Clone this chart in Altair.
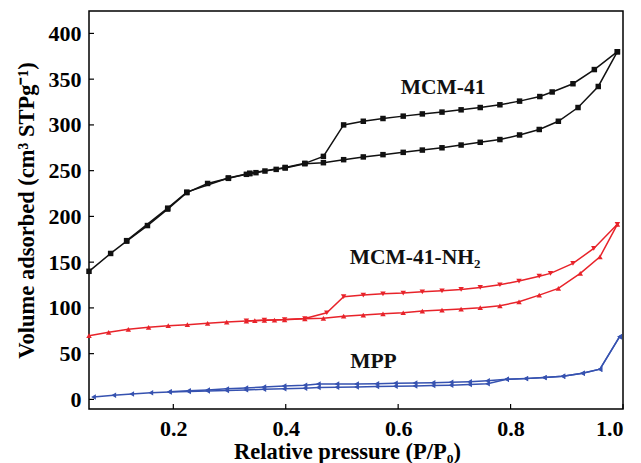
import altair as alt
import pandas as pd

# ---------------- data ----------------
# MCM-41 (black squares)
mcm_ads_x = [0.05, 0.0885, 0.117, 0.154, 0.19, 0.224, 0.261, 0.298, 0.33, 0.336, 0.347, 0.363, 0.383, 0.399,
             0.434, 0.467, 0.503, 0.538, 0.573, 0.609, 0.643, 0.678, 0.712, 0.746, 0.781, 0.816, 0.851, 0.885,
             0.92, 0.956, 0.99]
mcm_ads_y = [140, 159.5, 173, 190, 208, 226, 236, 241.6, 246, 246.7, 247.8, 249.6, 251.4, 252.9,
             257.6, 258.7, 262, 265, 267.5, 270, 272.5, 275, 278, 281, 284, 289, 295, 304,
             319, 342, 380]
mcm_des_x = [0.99, 0.949, 0.911, 0.874, 0.852, 0.816, 0.781, 0.746, 0.712, 0.678, 0.643, 0.609, 0.573,
             0.538, 0.503, 0.467, 0.434, 0.399, 0.336, 0.298, 0.224, 0.19, 0.117]
mcm_des_y = [380, 360.5, 345, 336, 331, 326, 322, 319, 316.5, 314, 312, 309.6, 307,
             304, 300, 265.6, 258, 253.5, 247.2, 242, 226.5, 209, 173.5]

# MCM-41-NH2 (red triangles)
nh2_ads_x = [0.05, 0.085, 0.12, 0.156, 0.191, 0.225, 0.261, 0.295, 0.33, 0.345, 0.362, 0.38, 0.398, 0.434,
             0.467, 0.503, 0.538, 0.573, 0.609, 0.643, 0.678, 0.712, 0.746, 0.781, 0.815, 0.851, 0.885,
             0.924, 0.959, 0.99]
nh2_ads_y = [69.6, 73.3, 76.6, 78.8, 80.5, 81.6, 83.1, 84.5, 85.6, 86, 86.4, 86.7, 87, 88.1,
             88.6, 91, 92.2, 93.6, 94.7, 96.5, 97.6, 98.7, 100.2, 102.3, 106.7, 114, 121.3,
             137.7, 155.8, 191.4]
nh2_des_x = [0.99, 0.948, 0.911, 0.871, 0.851, 0.815, 0.781, 0.746, 0.712, 0.678, 0.643, 0.609, 0.573,
             0.538, 0.503, 0.473, 0.434, 0.398, 0.362, 0.33]
nh2_des_y = [191.4, 165, 148.6, 137.7, 134.7, 129.3, 125.3, 122.4, 120.2, 118.7, 117.6, 116.2, 115.4,
             114, 112.2, 94.7, 88.4, 87.2, 86.6, 85.8]

# MPP (blue left triangles)
mpp_ads_x = [0.058, 0.094, 0.126, 0.16, 0.193, 0.227, 0.261, 0.295, 0.329, 0.361, 0.397, 0.434, 0.458,
             0.491, 0.526, 0.562, 0.595, 0.63, 0.662, 0.694, 0.727, 0.759, 0.793, 0.827, 0.86, 0.893,
             0.928, 0.959, 0.994]
mpp_ads_y = [2.7, 4.5, 6, 7.2, 8.0, 8.6, 9.2, 9.8, 10.4, 11.0, 11.5, 12.2, 12.9,
             13.3, 13.6, 14, 14.4, 14.7, 15.1, 15.5, 16.2, 17.2, 22, 22.7, 23.8, 25.3,
             28.6, 33, 68.5]
mpp_des_x = [0.994, 0.959, 0.928, 0.893, 0.86, 0.827, 0.793, 0.759, 0.727, 0.694, 0.662, 0.63, 0.595,
             0.562, 0.526, 0.491, 0.458, 0.434, 0.397, 0.361, 0.329, 0.295, 0.261, 0.227, 0.193]
mpp_des_y = [68.5, 33, 28.6, 25.3, 23.8, 22.7, 22, 20.5, 19.4, 18.7, 18.3, 18, 17.6,
             17.2, 16.9, 16.9, 16.9, 15.5, 14.7, 13.6, 12.5, 11.5, 10.4, 9.4, 8.3]

# labels placed in the plot
label_text = ["MCM-41", "MCM-41-NH\u2082", "MPP"]
label_x = [0.68, 0.63, 0.556]
label_y = [340, 154, 41]

# axis ticks
x_ticks = [0.2, 0.4, 0.6, 0.8, 1.0]
y_ticks = [0, 50, 100, 150, 200, 250, 300, 350, 400]

# ---------------- build tables ----------------
series_names = ["MCM-41", "MCM-41-NH2", "MPP"]
series_colors = ["#111111", "#e8232a", "#3652b0"]

frames = []
branches = [
    ("MCM-41", "MCM-41 ads", mcm_ads_x, mcm_ads_y),
    ("MCM-41", "MCM-41 des", mcm_des_x, mcm_des_y),
    ("MCM-41-NH2", "NH2 ads", nh2_ads_x, nh2_ads_y),
    ("MCM-41-NH2", "NH2 des", nh2_des_x, nh2_des_y),
    ("MPP", "MPP ads", mpp_ads_x, mpp_ads_y),
    ("MPP", "MPP des", mpp_des_x, mpp_des_y),
]
for s, k, xs, ys in branches:
    frames.append(pd.DataFrame({"x": xs, "y": ys, "series": s, "key": k, "order": list(range(len(xs)))}))
df = pd.concat(frames, ignore_index=True)

keys = [b[1] for b in branches]
shapes = ["square", "square", "triangle-up", "triangle-down", "triangle-left", "triangle-left"]

FONT = "Liberation Serif"
W, H = 534, 398

X = alt.X("x:Q", scale=alt.Scale(domain=[0.05, 1.0], nice=False, zero=False),
          axis=alt.Axis(values=x_ticks, format=".1f", title="Relative pressure (P/P\u2080)",
                        grid=False, domain=False, ticks=False, labelPadding=9, titlePadding=1,
                        titleX=258))
Y = alt.Y("y:Q", scale=alt.Scale(domain=[-10.5, 424.5], nice=False, zero=False),
          axis=alt.Axis(values=y_ticks, title="Volume adsorbed (cm\u00b3 STPg\u207b\u00b9)",
                        grid=False, domain=False, ticks=False, labelPadding=8, titlePadding=10))
color = alt.Color("series:N", scale=alt.Scale(domain=series_names, range=series_colors), legend=None)

lines = alt.Chart(df).mark_line(strokeWidth=1.5).encode(
    x=X, y=Y, color=color, detail="key:N", order="order:Q")

points = alt.Chart(df).mark_point(filled=True, size=30, opacity=1).encode(
    x=X, y=Y, color=color,
    shape=alt.Shape("key:N", scale=alt.Scale(domain=keys, range=shapes), legend=None))

lab_df = pd.DataFrame({"x": label_x, "y": label_y, "label": label_text})
labels = alt.Chart(lab_df).mark_text(font=FONT, fontWeight="bold", fontSize=21.5, color="#111111").encode(
    x=X, y=Y, text="label:N")

xt_df = pd.DataFrame({"x": x_ticks})
xticks = alt.Chart(xt_df).mark_rule(color="black", strokeWidth=1.2).encode(
    x=X, y=alt.value(H), y2=alt.value(H - 5))

yt_df = pd.DataFrame({"y": y_ticks})
yticks = alt.Chart(yt_df).mark_rule(color="black", strokeWidth=1.2).encode(
    y=Y, x=alt.value(0), x2=alt.value(5))

chart = alt.layer(lines, points, labels, xticks, yticks).properties(
    width=W, height=H,
    autosize=alt.AutoSizeParams(type="none"),
    padding={"left": 81, "top": 3, "right": 10, "bottom": 54},
).configure_view(
    stroke="black", strokeWidth=1.5
).configure_axis(
    labelFont=FONT, labelFontWeight="bold", labelFontSize=22, labelColor="black",
    titleFont=FONT, titleFontWeight="bold", titleFontSize=22.5, titleColor="black",
)

chart.save("out.html", embed_options={"renderer": "svg", "actions": False})
